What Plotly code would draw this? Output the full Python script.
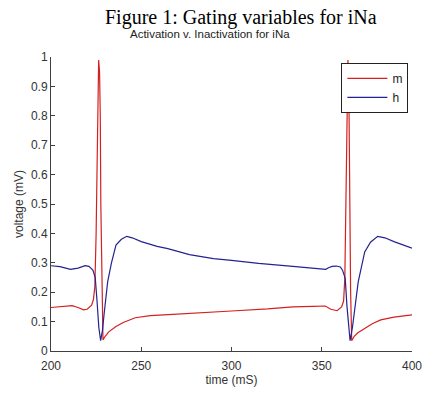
import plotly.graph_objects as go

# time samples (ms) and gating variable values
t_m = [200, 205, 211.7, 215, 218, 220, 222.5, 223.5, 224.3, 225.0, 225.8, 226.4, 226.9, 227.3, 227.6,
       227.9, 228.4, 228.8, 230, 232, 236, 240, 246.7, 255, 265, 280, 300, 320, 334, 345, 350, 352,
       355, 358.5, 361, 362.1, 362.8, 363.4, 364, 364.5, 365, 365.5, 366, 366.6, 368, 370, 373.8,
       378, 382.7, 390, 400]
m_vals = [0.148, 0.150, 0.154, 0.148, 0.140, 0.142, 0.156, 0.175, 0.22, 0.40, 0.80, 0.99, 0.95, 0.80, 0.50,
          0.35, 0.10, 0.038, 0.05, 0.065, 0.083, 0.097, 0.113, 0.120, 0.124, 0.130, 0.136, 0.143, 0.150, 0.152, 0.154, 0.153,
          0.142, 0.137, 0.150, 0.170, 0.25, 0.50, 0.85, 0.99, 0.90, 0.50, 0.20, 0.035, 0.05, 0.062, 0.078,
          0.093, 0.106, 0.115, 0.123]

t_h = [200, 205, 210.8, 215, 218.9, 221, 223.2, 224.5, 225.5, 226.5, 227.5, 228.5, 229.5, 231.4, 233.5,
       236, 239, 242, 245, 250, 258.8, 264.7, 276.7, 290, 300, 315, 334, 345, 350, 352.2, 354, 355.8,
       358, 360.3, 361.5, 363, 364, 365, 365.7, 367, 368.5, 370.2, 373.8, 377, 381, 385, 390, 395, 400]
h_vals = [0.290, 0.287, 0.278, 0.282, 0.290, 0.288, 0.275, 0.25, 0.17, 0.08, 0.035, 0.07, 0.13, 0.236, 0.30,
          0.36, 0.38, 0.39, 0.385, 0.372, 0.356, 0.348, 0.328, 0.314, 0.308, 0.298, 0.288, 0.283, 0.279, 0.278, 0.284, 0.288,
          0.289, 0.286, 0.275, 0.247, 0.15, 0.07, 0.035, 0.08, 0.15, 0.235, 0.337, 0.37, 0.39, 0.385, 0.372, 0.36, 0.35]

x_ticks = [200, 250, 300, 350, 400]
y_ticks = [0, 0.1, 0.2, 0.3, 0.4, 0.5, 0.6, 0.7, 0.8, 0.9, 1]
y_tick_text = ["0", "0.1", "0.2", "0.3", "0.4", "0.5", "0.6", "0.7", "0.8", "0.9", "1"]

fig = go.Figure()
fig.add_trace(go.Scatter(x=t_m, y=m_vals, mode="lines", name="m",
                         line=dict(color="#d42020", width=1.2)))
fig.add_trace(go.Scatter(x=t_h, y=h_vals, mode="lines", name="h",
                         line=dict(color="#23238f", width=1.2)))

axis_common = dict(showline=True, linecolor="#404040", linewidth=1, ticks="inside",
                   ticklen=4, tickcolor="#404040", showgrid=False, zeroline=False,
                   tickfont=dict(family="Liberation Sans, Arial", size=12, color="#333333"),
                   mirror=False)

fig.update_layout(
    width=434, height=394,
    margin=dict(l=51, r=12, t=57, b=41),
    paper_bgcolor="white", plot_bgcolor="white",
    showlegend=True,
    legend=dict(x=0.99, y=0.98, xanchor="right", yanchor="top",
                bgcolor="white", bordercolor="#222222", borderwidth=1,
                font=dict(family="Liberation Sans, Arial", size=12, color="#222222"),
                tracegroupgap=2, itemwidth=40),
    xaxis=dict(range=[200, 400], tickvals=x_ticks, ticklabelstandoff=4, **axis_common,
               title=dict(text="time (mS)", standoff=0,
                          font=dict(family="Liberation Sans, Arial", size=12, color="#333333"))),
    yaxis=dict(range=[0, 1], tickvals=y_ticks, ticktext=y_tick_text, **axis_common,
               title=dict(text="voltage (mV)", standoff=4,
                          font=dict(family="Liberation Sans, Arial", size=12, color="#333333"))),
    annotations=[
        dict(text="Figure 1: Gating variables for iNa", xref="paper", yref="paper",
             x=(246 - 51) / 371, y=(353 - 17) / 296, xanchor="center", yanchor="middle",
             showarrow=False, font=dict(family="Liberation Serif, Times New Roman", size=20, color="black")),
        dict(text="Activation v. Inactivation for iNa", xref="paper", yref="paper",
             x=(214 - 51) / 371, y=(353 - 34) / 296, xanchor="center", yanchor="middle",
             showarrow=False, font=dict(family="Liberation Sans, Arial", size=11.5, color="#222222")),
    ],
)

fig.write_html("out.html")
